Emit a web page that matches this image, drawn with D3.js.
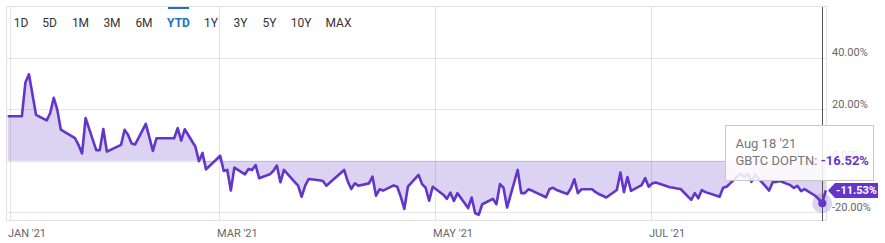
<html>
<head>
    <style>
        body { margin: 0; background: #fff; }
        svg { font-family: Roboto, "Open Sans", sans-serif; }
    </style>
    <script src="https://d3js.org/d3.v7.min.js"></script>
</head>
<body>
<svg id="chart" width="885" height="243"></svg>
<script>
    // GBTC discount / premium, YTD 2021
    var dates = [
        "2020-12-31", "2021-01-04", "2021-01-05", "2021-01-06", "2021-01-08", "2021-01-11", "2021-01-12",
        "2021-01-13", "2021-01-14", "2021-01-15", "2021-01-19", "2021-01-20", "2021-01-21", "2021-01-22",
        "2021-01-25", "2021-01-26", "2021-01-27", "2021-01-28", "2021-02-01", "2021-02-02", "2021-02-03",
        "2021-02-04", "2021-02-05", "2021-02-08", "2021-02-10", "2021-02-11", "2021-02-16", "2021-02-17",
        "2021-02-18", "2021-02-19", "2021-02-22", "2021-02-23", "2021-02-24", "2021-02-25", "2021-03-01",
        "2021-03-02", "2021-03-03", "2021-03-04", "2021-03-05", "2021-03-08", "2021-03-09", "2021-03-10",
        "2021-03-11", "2021-03-12", "2021-03-15", "2021-03-16", "2021-03-17", "2021-03-18", "2021-03-19",
        "2021-03-22", "2021-03-23", "2021-03-24", "2021-03-25", "2021-03-26", "2021-03-29", "2021-03-30",
        "2021-03-31", "2021-04-01", "2021-04-05", "2021-04-06", "2021-04-07", "2021-04-08", "2021-04-09",
        "2021-04-12", "2021-04-13", "2021-04-14", "2021-04-15", "2021-04-16", "2021-04-19", "2021-04-20",
        "2021-04-21", "2021-04-22", "2021-04-23", "2021-04-26", "2021-04-27", "2021-04-28", "2021-04-29",
        "2021-04-30", "2021-05-03", "2021-05-04", "2021-05-05", "2021-05-06", "2021-05-07", "2021-05-10",
        "2021-05-11", "2021-05-12", "2021-05-13", "2021-05-14", "2021-05-17", "2021-05-18", "2021-05-19",
        "2021-05-20", "2021-05-21", "2021-05-24", "2021-05-25", "2021-05-26", "2021-05-27", "2021-05-28",
        "2021-06-01", "2021-06-02", "2021-06-03", "2021-06-04", "2021-06-07", "2021-06-08", "2021-06-09",
        "2021-06-10", "2021-06-11", "2021-06-14", "2021-06-15", "2021-06-16", "2021-06-17", "2021-06-18",
        "2021-06-21", "2021-06-22", "2021-06-23", "2021-06-24", "2021-06-25", "2021-06-28", "2021-06-29",
        "2021-06-30", "2021-07-01", "2021-07-02", "2021-07-06", "2021-07-07", "2021-07-08", "2021-07-09",
        "2021-07-12", "2021-07-13", "2021-07-14", "2021-07-15", "2021-07-16", "2021-07-19", "2021-07-20",
        "2021-07-21", "2021-07-22", "2021-07-23", "2021-07-26", "2021-07-27", "2021-07-28", "2021-07-29",
        "2021-07-30", "2021-08-02", "2021-08-03", "2021-08-04", "2021-08-05", "2021-08-06", "2021-08-09",
        "2021-08-10", "2021-08-11", "2021-08-12", "2021-08-13", "2021-08-16", "2021-08-17", "2021-08-18",
        "2021-08-19"
    ];
    var values = [
        17.2, 17.2, 30.3, 33.5, 17.8, 15.6, 18.5,
        24.4, 19.8, 12.0, 8.7, 6.1, 2.8, 16.5,
        4.1, 4.1, 12.3, 3.5, 6.1, 12.0, 10.0,
        6.7, 6.3, 14.3, 3.8, 8.7, 8.7, 12.6,
        7.8, 12.2, 5.4, -0.2, 3.0, -3.4, 1.9,
        -4.0, -3.6, -11.6, -2.7, -5.3, -3.2, -3.6,
        -1.7, -6.8, -5.3, -4.0, -1.9, -8.4, -3.6,
        -8.2, -9.7, -14.0, -9.7, -7.1, -7.6, -7.9,
        -9.7, -8.5, -3.6, -8.0, -11.0, -8.8, -9.7,
        -8.8, -6.2, -13.6, -11.1, -11.6, -9.6, -10.1,
        -14.0, -18.7, -10.1, -5.5, -9.1, -10.5, -15.5,
        -10.1, -13.2, -14.8, -12.4, -15.6, -12.6, -18.4,
        -14.3, -20.4, -21.0, -16.9, -14.8, -16.9, -9.1,
        -10.5, -18.2, -3.6, -12.6, -12.6, -11.1, -11.6,
        -14.2, -11.0, -10.5, -11.4, -12.9, -10.8, -7.2,
        -12.6, -11.1, -11.1, -12.2, -13.0, -13.6, -14.3,
        -11.4, -4.6, -12.2, -6.4, -11.7, -9.5, -6.8,
        -10.1, -8.8, -8.5, -10.3, -10.5, -10.8, -11.0,
        -15.2, -12.6, -14.6, -11.4, -12.2, -13.5, -14.0,
        -10.5, -10.1, -8.8, -5.0, -6.5, -5.2, -8.2,
        -5.4, -10.0, -11.6, -8.4, -8.3, -7.9, -9.5,
        -10.6, -9.8, -11.8, -11.0, -13.6, -14.9, -16.52,
        -11.53
    ];
    var yTicks = [-20, 0, 20, 40];
    var xTickDates = ["2021-01-01", "2021-03-01", "2021-05-01", "2021-07-01"];
    var xTickLabels = ["JAN '21", "MAR '21", "MAY '21", "JUL '21"];
    var ranges = ["1D", "5D", "1M", "3M", "6M", "YTD", "1Y", "3Y", "5Y", "10Y", "MAX"];
    var activeRange = "YTD";
    var hoverDate = "2021-08-18";
    var seriesName = "GBTC DOPTN";

    var purple = "#6435c9";
    var parse = d3.timeParse("%Y-%m-%d");
    var data = dates.map(function (d, i) { return { date: parse(d), value: values[i] }; });

    var svg = d3.select("#chart");
    var plotL = 7, plotR = 827, plotT = 7, plotB = 221;

    var x = d3.scaleTime()
        .domain([parse("2020-12-31"), parse("2021-08-19")])
        .range([7.7, 825.8]);

    var y = d3.scaleLinear()
        .domain([-23.4, 59.6])
        .range([plotB, plotT]);

    // range selector
    var btnX = [21, 49.5, 80.5, 112, 144, 178.5, 211, 240.5, 269.5, 301, 338.5];
    var btns = svg.append("g");
    btns.selectAll("text")
        .data(ranges)
        .enter().append("text")
        .attr("x", function (d, i) { return btnX[i]; })
        .attr("y", 27)
        .attr("text-anchor", "middle")
        .attr("font-size", 12)
        .attr("font-weight", function (d) { return d === activeRange ? 700 : 400; })
        .attr("fill", function (d) { return d === activeRange ? "#1a73c8" : "#333"; })
        .text(function (d) { return d; });
    var ai = ranges.indexOf(activeRange);
    btns.append("rect")
        .attr("x", btnX[ai] - 10.5).attr("y", 6)
        .attr("width", 21).attr("height", 3)
        .attr("fill", "#1a73c8");

    // area + line
    var area = d3.area()
        .x(function (d) { return x(d.date); })
        .y0(y(0))
        .y1(function (d) { return y(d.value); });
    var line = d3.line()
        .x(function (d) { return x(d.date); })
        .y(function (d) { return y(d.value); });

    svg.append("path")
        .datum(data)
        .attr("d", area)
        .attr("fill", "#dcd2f2");

    // grid
    var grid = svg.append("g").attr("stroke", "rgba(0,0,0,0.1)").attr("stroke-width", 1);
    grid.selectAll("line.h")
        .data(yTicks)
        .enter().append("line")
        .attr("x1", plotL).attr("x2", plotR)
        .attr("y1", function (d) { return Math.round(y(d)) + 0.5; })
        .attr("y2", function (d) { return Math.round(y(d)) + 0.5; });
    grid.selectAll("line.v")
        .data(xTickDates)
        .enter().append("line")
        .attr("y1", plotT).attr("y2", plotB)
        .attr("x1", function (d) { return Math.round(x(parse(d))) - 0.5; })
        .attr("x2", function (d) { return Math.round(x(parse(d))) - 0.5; });

    // frame
    svg.append("rect")
        .attr("x", plotL - 0.5).attr("y", plotT - 0.5)
        .attr("width", plotR - plotL).attr("height", plotB - plotT)
        .attr("fill", "none").attr("stroke", "#e2e2e2");

    svg.append("path")
        .datum(data)
        .attr("d", line)
        .attr("fill", "none")
        .attr("stroke", purple)
        .attr("stroke-width", 2.6)
        .attr("stroke-linejoin", "round");

    // x labels
    svg.append("g").selectAll("text")
        .data(xTickDates)
        .enter().append("text")
        .attr("x", function (d) { return Math.round(x(parse(d))) - 3; })
        .attr("y", 237)
        .attr("font-size", 11)
        .attr("fill", "#666")
        .text(function (d, i) { return xTickLabels[i]; });

    // y labels (the 0% one sits under the tooltip)
    svg.append("g").selectAll("text")
        .data(yTicks)
        .enter().append("text")
        .attr("x", 832)
        .attr("y", function (d) { return y(d) - 1.5; })
        .attr("font-size", 11)
        .attr("fill", "#666")
        .text(function (d) { return d.toFixed(2) + "%"; });

    // hover crosshair
    var hd = data.find(function (d) { return +d.date === +parse(hoverDate); });
    var hx = Math.round(x(hd.date)) + 0.5;
    svg.append("line")
        .attr("x1", hx).attr("x2", hx)
        .attr("y1", plotT).attr("y2", plotB)
        .attr("stroke", "#555").attr("stroke-width", 1);
    svg.append("circle")
        .attr("cx", x(hd.date)).attr("cy", y(hd.value))
        .attr("r", 10).attr("fill", purple).attr("fill-opacity", 0.22);
    svg.append("circle")
        .attr("cx", x(hd.date)).attr("cy", y(hd.value))
        .attr("r", 4).attr("fill", purple);

    // last value flag
    var last = data[data.length - 1];
    var ly = y(last.value);
    svg.append("path")
        .attr("d", "M828," + ly + "L835," + (ly - 7.5) + "H878V" + (ly + 7.5) + "H835Z")
        .attr("fill", purple);
    svg.append("text")
        .attr("x", 856.5).attr("y", ly + 4)
        .attr("text-anchor", "middle")
        .attr("font-size", 11).attr("font-weight", 700)
        .attr("fill", "#fff")
        .text(last.value.toFixed(2) + "%");

    // tooltip
    var tip = svg.append("g").attr("transform", "translate(725,125)");
    tip.append("rect")
        .attr("x", 0.5).attr("y", 0.5)
        .attr("width", 148).attr("height", 55)
        .attr("fill", "#fff").attr("fill-opacity", 0.85)
        .attr("stroke", "#c8c8c8");
    tip.append("text")
        .attr("x", 10.5).attr("y", 23)
        .attr("font-size", 13).attr("fill", "#777")
        .text(d3.timeFormat("%b %d '%y")(hd.date));
    var t2 = tip.append("text")
        .attr("x", 10.5).attr("y", 40)
        .attr("font-size", 13).attr("fill", "#777");
    t2.append("tspan").text(seriesName + ": ");
    t2.append("tspan").attr("fill", purple).attr("font-weight", 700).text(hd.value.toFixed(2) + "%");
</script>
</body>
</html>
